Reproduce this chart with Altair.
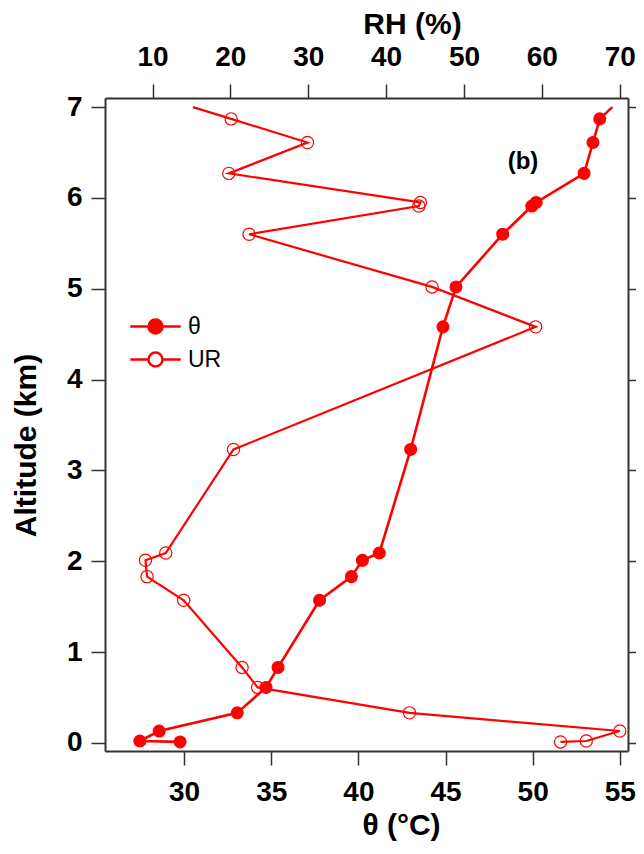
import altair as alt
import pandas as pd

# ---- data ----
altitude = [0.01, 0.02, 0.13, 0.33, 0.61, 0.83, 1.57, 1.83, 2.01, 2.09,
            3.23, 4.58, 5.02, 5.60, 5.91, 5.95, 6.27, 6.61, 6.87, 7.00]
theta = [29.77, 27.46, 28.57, 33.05, 34.70, 35.39, 37.77, 39.60, 40.23, 41.20,
         43.00, 44.85, 45.60, 48.28, 49.95, 50.20, 52.95, 53.46, 53.85, 54.57]
rh = [62.4, 65.7, 70.0, 43.0, 23.5, 21.5, 14.0, 9.3, 9.1, 11.7,
      20.4, 59.2, 45.9, 22.4, 44.2, 44.4, 19.8, 29.9, 20.1, 15.2]
has_marker = [True] * 19 + [False]
series = ["θ", "UR"]
theta_ticks = [30, 35, 40, 45, 50, 55]
rh_ticks = [10, 20, 30, 40, 50, 60, 70]
alt_ticks = [0, 1, 2, 3, 4, 5, 6, 7]

df_t = pd.DataFrame({"idx": range(len(altitude)), "alt": altitude, "val": theta,
                     "marker": has_marker, "series": series[0]})
df_r = pd.DataFrame({"idx": range(len(altitude)), "alt": altitude, "val": rh,
                     "marker": has_marker, "series": series[1]})

RED = "#ff0000"
FONT = "Liberation Sans"
SYMBOL = "M-3.6,0L-1,0M1,0L3.6,0M1,0A1,1,0,1,1,-1,0A1,1,0,1,1,1,0Z"

y_scale = alt.Scale(domain=[-0.09, 7.10], nice=False, zero=False)

legend = alt.Legend(title=None, orient="none", legendX=39, legendY=217,
                    symbolType=SYMBOL, symbolSize=196, symbolStrokeColor=RED,
                    symbolStrokeWidth=2.5, symbolOpacity=1,
                    labelFont=FONT, labelFontSize=23, labelColor="black",
                    labelOffset=21, rowPadding=8, padding=0)
fill_scale = alt.Scale(domain=series, range=[RED, "transparent"])

common_axis = dict(domainColor="#333333", domainWidth=2, tickColor="#333333",
                   tickWidth=1.5, tickSize=14, grid=False,
                   labelFont=FONT, labelFontSize=28, labelFontWeight="bold",
                   labelColor="black", titleFont=FONT, titleFontSize=30,
                   titleFontWeight="bold", titleColor="black")

# theta layer (bottom axis, left axis)
x_t = alt.X("val:Q", scale=alt.Scale(domain=[25.46, 55.47], nice=False, zero=False),
            axis=alt.Axis(orient="bottom", values=theta_ticks, title="θ (°C)",
                          labelPadding=13, titleX=296, titleY=83,
                          titleBaseline="alphabetic", titleAlign="center",
                          **common_axis))
y_t = alt.Y("alt:Q", scale=y_scale,
            axis=alt.Axis(orient="left", values=alt_ticks, title="Altitude (km)",
                          labelPadding=9, titleX=-70, titleY=347, titleAngle=270,
                          titleBaseline="alphabetic", titleAlign="center",
                          **common_axis))
t_line = alt.Chart(df_t).mark_line(color=RED, strokeWidth=2.6).encode(
    x=x_t, y=y_t, order="idx:Q")
t_pts = alt.Chart(df_t).transform_filter("datum.marker").mark_point(
    filled=True, stroke=RED, strokeWidth=1.2, size=140, opacity=1, shape="circle"
).encode(x=x_t, y=y_t, fill=alt.Fill("series:N", scale=fill_scale, legend=legend))
theta_layer = alt.layer(t_line, t_pts)

# RH layer (top axis, right axis)
x_r = alt.X("val:Q", scale=alt.Scale(domain=[3.9, 71.06], nice=False, zero=False),
            axis=alt.Axis(orient="top", values=rh_ticks, title="RH (%)",
                          labelPadding=13, titleX=307, titleY=-65,
                          titleBaseline="alphabetic", titleAlign="center",
                          **common_axis))
y_r = alt.Y("alt:Q", scale=y_scale,
            axis=alt.Axis(orient="right", values=alt_ticks, labels=False, title=None,
                          **common_axis))
r_line = alt.Chart(df_r).mark_line(color=RED, strokeWidth=2.2).encode(
    x=x_r, y=y_r, order="idx:Q")
r_pts = alt.Chart(df_r).transform_filter("datum.marker").mark_point(
    filled=True, stroke=RED, strokeWidth=1.2, size=150, opacity=1, shape="circle"
).encode(x=x_r, y=y_r, fill=alt.Fill("series:N", scale=fill_scale, legend=legend))
rh_layer = alt.layer(r_line, r_pts)

label_b = alt.Chart(pd.DataFrame({"t": ["(b)"]})).mark_text(
    font=FONT, fontSize=24, fontWeight="bold", color="black",
    align="center", baseline="middle"
).encode(text="t:N", x=alt.value(418), y=alt.value(64))

chart = alt.layer(theta_layer, rh_layer, label_b).resolve_scale(
    x="independent", y="independent"
).properties(
    width=523, height=653,
    autosize=alt.AutoSizeParams(type="none"),
    padding={"left": 97, "top": 90, "right": 8, "bottom": 90},
    background="white",
).configure_view(stroke=None)

chart.save("out.html", embed_options={"renderer": "svg", "actions": False})
